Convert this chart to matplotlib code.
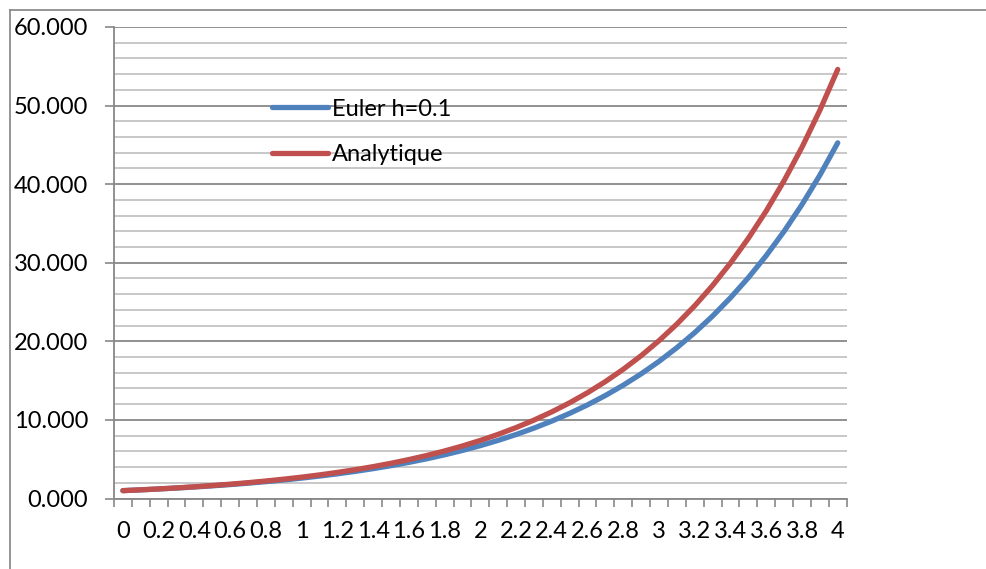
import numpy as np
import matplotlib.pyplot as plt
from matplotlib.lines import Line2D
from matplotlib.ticker import MultipleLocator, FixedLocator

plt.rcParams['font.family'] = ['Lato', 'DejaVu Sans']

# x = 0, 0.1, ..., 4.0 (41 catégories)
x_labels = ['0', '0.1', '0.2', '0.3', '0.4', '0.5', '0.6', '0.7', '0.8', '0.9',
            '1', '1.1', '1.2', '1.3', '1.4', '1.5', '1.6', '1.7', '1.8', '1.9',
            '2', '2.1', '2.2', '2.3', '2.4', '2.5', '2.6', '2.7', '2.8', '2.9',
            '3', '3.1', '3.2', '3.3', '3.4', '3.5', '3.6', '3.7', '3.8', '3.9', '4']

euler = [1.000, 1.100, 1.210, 1.331, 1.464, 1.611, 1.772, 1.949, 2.144, 2.358,
         2.594, 2.853, 3.138, 3.452, 3.797, 4.177, 4.595, 5.054, 5.560, 6.116,
         6.727, 7.400, 8.140, 8.954, 9.850, 10.835, 11.918, 13.110, 14.421, 15.863,
         17.449, 19.194, 21.114, 23.225, 25.548, 28.102, 30.913, 34.004, 37.404, 41.145,
         45.259]

analytique = [1.000, 1.105, 1.221, 1.350, 1.492, 1.649, 1.822, 2.014, 2.226, 2.460,
              2.718, 3.004, 3.320, 3.669, 4.055, 4.482, 4.953, 5.474, 6.050, 6.686,
              7.389, 8.166, 9.025, 9.974, 11.023, 12.182, 13.464, 14.880, 16.445, 18.174,
              20.086, 22.198, 24.533, 27.113, 29.964, 33.115, 36.598, 40.447, 44.701, 49.402,
              54.598]

BLUE = '#4F81BD'
RED = '#C0504D'
GRID_MAJ = '#888888'
GRID_MIN = '#c4c4c4'

fig = plt.figure(figsize=(9.86, 5.69), dpi=100)
ax = fig.add_axes([0.1156, 0.1239, 0.7431, 0.8287])

pos = np.arange(len(x_labels))
ax.plot(pos, euler, color=BLUE, lw=3.8, solid_capstyle='round', label='Euler h=0.1', zorder=3)
ax.plot(pos, analytique, color=RED, lw=3.8, solid_capstyle='round', label='Analytique', zorder=3)

ax.set_xlim(-0.5, len(x_labels) - 0.5)
ax.set_ylim(0, 60)

# axe y : grilles majeures tous les 10, mineures tous les 2
ax.yaxis.set_major_locator(MultipleLocator(10))
ax.yaxis.set_minor_locator(MultipleLocator(2))
ax.set_yticklabels([f'{v:.3f}' for v in ax.get_yticks()])
ax.grid(which='major', axis='y', color=GRID_MAJ, lw=1.3)
ax.grid(which='minor', axis='y', color=GRID_MIN, lw=1.3)
ax.tick_params(axis='y', which='major', length=6.5, width=1.2, color=GRID_MAJ,
               labelsize=17, pad=12)
ax.tick_params(axis='y', which='minor', length=0)

# axe x : étiquettes une catégorie sur deux, graduations entre catégories
ax.xaxis.set_major_locator(FixedLocator(pos[::2]))
ax.set_xticklabels(x_labels[::2])
ax.xaxis.set_minor_locator(FixedLocator(np.arange(-0.5, len(x_labels), 1)))
ax.tick_params(axis='x', which='major', length=0, labelsize=17, pad=16)
ax.tick_params(axis='x', which='minor', length=5.5, width=1.2, color=GRID_MAJ)

for s in ['top', 'right']:
    ax.spines[s].set_visible(False)
for s in ['left', 'bottom']:
    ax.spines[s].set_color(GRID_MAJ)
    ax.spines[s].set_linewidth(1.3)
ax.set_axisbelow(True)

leg = ax.legend(loc='upper left', bbox_to_anchor=(0.215, 0.848), frameon=False,
                fontsize=17, handlelength=2.4, handletextpad=0.15, labelspacing=1.05,
                borderaxespad=0, borderpad=0)

# bordure de la zone de graphique (partiellement visible)
fig.add_artist(Line2D([0.0105, 0.0105], [0, 0.982], color='#8c8c8c', lw=1.3))
fig.add_artist(Line2D([0.0105, 1.0], [0.982, 0.982], color='#8c8c8c', lw=1.3))

fig.savefig('out.png', dpi=100)
